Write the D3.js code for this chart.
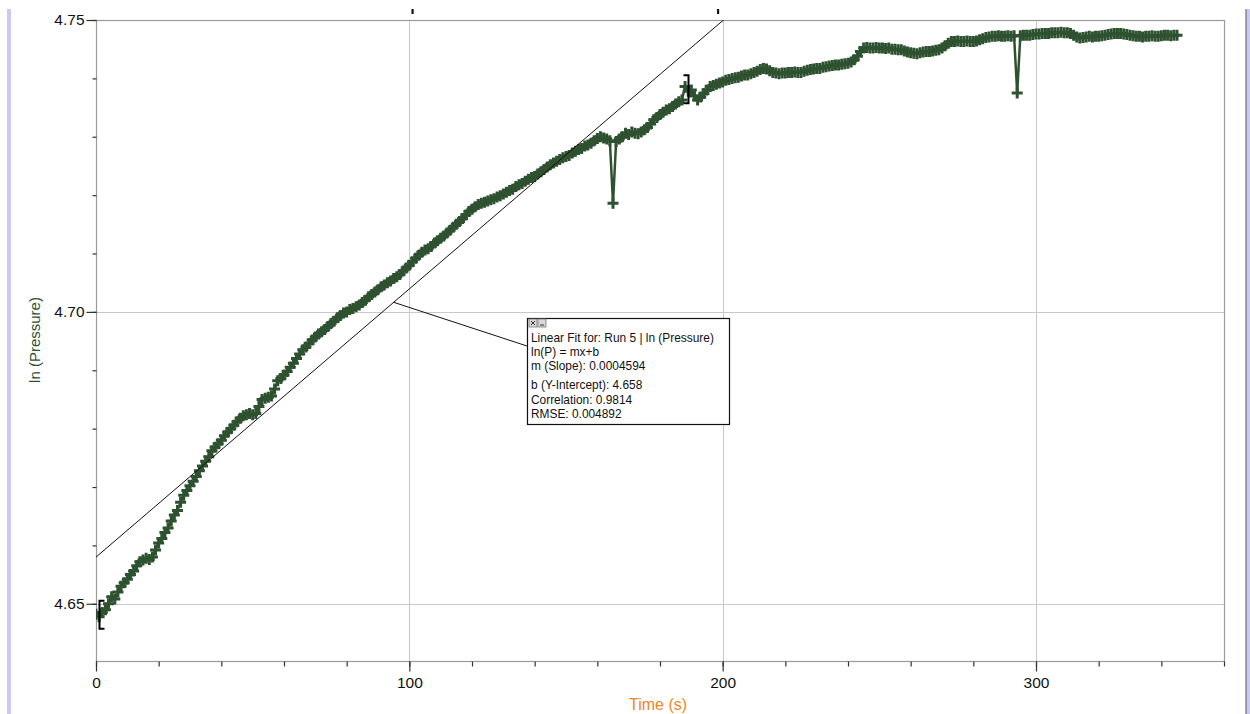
<!DOCTYPE html>
<html>
<head>
<meta charset="utf-8">
<script src="https://cdn.jsdelivr.net/npm/d3@7"></script>
<style>
  html, body { margin: 0; padding: 0; background: #fff; }
  svg { display: block; font-family: "Liberation Sans", Arial, sans-serif; }
</style>
</head>
<body>
<svg id="chart" width="1250" height="714"></svg>
<script>
// ---- data ----
// ln(Pressure) sampled once per second, t = 0 … 345 s
const lnP = [
  4.6482, 4.6478, 4.6485, 4.6490, 4.6500, 4.6512, 4.6508, 4.6520, 4.6530, 4.6536,
  4.6542, 4.6550, 4.6556, 4.6565, 4.6572, 4.6575, 4.6578, 4.6576, 4.6580, 4.6592,
  4.6604, 4.6612, 4.6622, 4.6630, 4.6642, 4.6652, 4.6660, 4.6674, 4.6686, 4.6694,
  4.6702, 4.6710, 4.6718, 4.6728, 4.6736, 4.6744, 4.6752, 4.6762, 4.6768, 4.6774,
  4.6780, 4.6788, 4.6794, 4.6800, 4.6806, 4.6812, 4.6818, 4.6822, 4.6824, 4.6826,
  4.6824, 4.6826, 4.6838, 4.6850, 4.6852, 4.6854, 4.6856, 4.6868, 4.6882, 4.6886,
  4.6892, 4.6898, 4.6905, 4.6912, 4.6920, 4.6928, 4.6935, 4.6940, 4.6946, 4.6952,
  4.6957, 4.6962, 4.6966, 4.6970, 4.6975, 4.6980, 4.6984, 4.6990, 4.6994, 4.6998,
  4.7000, 4.7004, 4.7006, 4.7009, 4.7012, 4.7016, 4.7020, 4.7026, 4.7030, 4.7034,
  4.7038, 4.7043, 4.7046, 4.7050, 4.7053, 4.7057, 4.7060, 4.7064, 4.7070, 4.7075,
  4.7080, 4.7086, 4.7092, 4.7097, 4.7102, 4.7106, 4.7108, 4.7112, 4.7118, 4.7122,
  4.7126, 4.7130, 4.7135, 4.7140, 4.7145, 4.7150, 4.7155, 4.7160, 4.7166, 4.7172,
  4.7176, 4.7180, 4.7184, 4.7186, 4.7188, 4.7190, 4.7192, 4.7194, 4.7197, 4.7199,
  4.7202, 4.7205, 4.7208, 4.7210, 4.7215, 4.7218, 4.7220, 4.7224, 4.7227, 4.7230,
  4.7232, 4.7236, 4.7240, 4.7244, 4.7248, 4.7252, 4.7255, 4.7258, 4.7261, 4.7264,
  4.7266, 4.7268, 4.7272, 4.7275, 4.7278, 4.7280, 4.7284, 4.7286, 4.7289, 4.7293,
  4.7297, 4.7300, 4.7298, 4.7296, 4.7293, 4.7186, 4.7292, 4.7296, 4.7300, 4.7306,
  4.7304, 4.7308, 4.7306, 4.7305, 4.7308, 4.7312, 4.7316, 4.7322, 4.7329, 4.7333,
  4.7338, 4.7342, 4.7346, 4.7348, 4.7352, 4.7356, 4.7360, 4.7363, 4.7386, 4.7378,
  4.7380, 4.7370, 4.7363, 4.7368, 4.7374, 4.7380, 4.7386, 4.7388, 4.7390, 4.7392,
  4.7394, 4.7397, 4.7398, 4.7400, 4.7401, 4.7402, 4.7404, 4.7406, 4.7406, 4.7408,
  4.7410, 4.7412, 4.7415, 4.7417, 4.7416, 4.7413, 4.7410, 4.7409, 4.7408, 4.7409,
  4.7409, 4.7410, 4.7410, 4.7411, 4.7410, 4.7410, 4.7412, 4.7414, 4.7415, 4.7416,
  4.7417, 4.7417, 4.7419, 4.7420, 4.7421, 4.7422, 4.7423, 4.7423, 4.7424, 4.7425,
  4.7426, 4.7428, 4.7432, 4.7438, 4.7446, 4.7452, 4.7453, 4.7452, 4.7452, 4.7453,
  4.7452, 4.7452, 4.7451, 4.7452, 4.7450, 4.7450, 4.7449, 4.7449, 4.7447, 4.7445,
  4.7444, 4.7443, 4.7442, 4.7444, 4.7445, 4.7446, 4.7446, 4.7447, 4.7448, 4.7449,
  4.7452, 4.7456, 4.7460, 4.7463, 4.7463, 4.7464, 4.7463, 4.7463, 4.7464, 4.7463,
  4.7463, 4.7464, 4.7466, 4.7468, 4.7470, 4.7471, 4.7472, 4.7472, 4.7473, 4.7472,
  4.7472, 4.7473, 4.7472, 4.7473, 4.7375, 4.7473, 4.7474, 4.7474, 4.7474, 4.7475,
  4.7476, 4.7476, 4.7477, 4.7477, 4.7477, 4.7478, 4.7478, 4.7478, 4.7479, 4.7478,
  4.7478, 4.7477, 4.7474, 4.7471, 4.7469, 4.7470, 4.7471, 4.7472, 4.7471, 4.7472,
  4.7472, 4.7473, 4.7474, 4.7475, 4.7476, 4.7477, 4.7477, 4.7477, 4.7476, 4.7475,
  4.7474, 4.7473, 4.7472, 4.7472, 4.7471, 4.7472, 4.7472, 4.7473, 4.7472, 4.7472,
  4.7473, 4.7474, 4.7474, 4.7473, 4.7474, 4.7474
];
const time = d3.range(0, lnP.length);            // seconds (1 s sample clock)

const xDomain = [0, 360];
const yDomain = [4.6402, 4.75];
const xMinorTicks = d3.range(0, 361, 20);
const xMajorTicks = [0, 100, 200, 300];
const yMinorTicks = [4.65, 4.66, 4.67, 4.68, 4.69, 4.70, 4.71, 4.72, 4.73, 4.74, 4.75];
const yMajorTicks = [4.65, 4.70, 4.75];
const xGrid = [100, 200, 300];
const yGrid = [4.65, 4.70];

// linear fit
const fitSlope = 0.0004594;
const fitIntercept = 4.658;
const fitRange = [1, 189];        // bracketed region of the fit (s)
const fitLeaderAt = 95;           // where the annotation leader meets the fit line (s)
const topMarks = [101, 198.5];    // small markers above the graph (s)

const fitText = [
  "Linear Fit for: Run 5 | ln (Pressure)",
  "ln(P) = mx+b",
  "m (Slope): 0.0004594",
  "b (Y-Intercept): 4.658",
  "Correlation: 0.9814",
  "RMSE: 0.004892"
];

const xTitle = "Time (s)";
const yTitle = "ln (Pressure)";

// ---- layout ----
const svg = d3.select("#chart");
const L = 96, R = 1224, T = 20, B = 661;
const x = d3.scaleLinear().domain(xDomain).range([L, R]);
const y = d3.scaleLinear().domain(yDomain).range([B, T]);
const green = "#2e5230";

// side bars
svg.append("rect").attr("x", 7).attr("y", 9).attr("width", 4).attr("height", 705).attr("fill", "#c9c9f2");
svg.append("rect").attr("x", 1246).attr("y", 9).attr("width", 4).attr("height", 705).attr("fill", "#c9c9f2");
svg.append("rect").attr("x", 1245.5).attr("y", 9).attr("width", 1).attr("height", 705).attr("fill", "#555");

// grid
svg.append("g").selectAll("line").data(xGrid).join("line")
  .attr("x1", d => Math.round(x(d)) + 0.5).attr("x2", d => Math.round(x(d)) + 0.5)
  .attr("y1", T).attr("y2", B).attr("stroke", "#c8c8c8").attr("stroke-width", 1);
svg.append("g").selectAll("line").data(yGrid).join("line")
  .attr("y1", d => Math.round(y(d)) + 0.5).attr("y2", d => Math.round(y(d)) + 0.5)
  .attr("x1", L).attr("x2", R).attr("stroke", "#c8c8c8").attr("stroke-width", 1);

// frame
svg.append("rect").attr("x", L + 0.5).attr("y", T + 0.5).attr("width", R - L).attr("height", B - T)
  .attr("fill", "none").attr("stroke", "#9a9a9a").attr("stroke-width", 1.2);

// axes
function styleAxis(g) {
  g.select(".domain").remove();
  g.selectAll(".tick line").attr("stroke", "#333").attr("stroke-width", 1.2);
  g.selectAll(".tick text").attr("fill", "#111").style("font-size", "15.5px")
    .style("font-family", '"Liberation Sans", Arial, sans-serif');
}
svg.append("g").attr("transform", `translate(0,${B + 0.5})`)
  .call(d3.axisBottom(x).tickValues(xMinorTicks).tickSize(5).tickFormat(""))
  .call(styleAxis);
svg.append("g").attr("transform", `translate(0,${B + 0.5})`)
  .call(d3.axisBottom(x).tickValues(xMajorTicks).tickSize(10).tickPadding(5).tickFormat(d3.format("d")))
  .call(styleAxis);
svg.append("g").attr("transform", `translate(${L + 0.5},0)`)
  .call(d3.axisLeft(y).tickValues(yMinorTicks).tickSize(4).tickFormat(""))
  .call(styleAxis);
svg.append("g").attr("transform", `translate(${L + 0.5},0)`)
  .call(d3.axisLeft(y).tickValues(yMajorTicks).tickSize(10).tickPadding(2).tickFormat(d3.format(".2f")))
  .call(styleAxis);

// top markers
svg.append("g").selectAll("rect").data(topMarks).join("rect")
  .attr("x", d => x(d) - 1).attr("y", 9).attr("width", 2.2).attr("height", 5).attr("fill", "#111");

// clip
svg.append("clipPath").attr("id", "plotclip").append("rect")
  .attr("x", L).attr("y", T).attr("width", R - L).attr("height", B - T);
const plot = svg.append("g").attr("clip-path", "url(#plotclip)");

// data line + markers
const pts = time.map((t, i) => [t, lnP[i]]);
plot.append("path").datum(pts)
  .attr("d", d3.line().x(d => x(d[0])).y(d => y(d[1])))
  .attr("fill", "none").attr("stroke", green).attr("stroke-width", 2.5);
const a = 5.5;
plot.append("g").selectAll("path").data(pts).join("path")
  .attr("transform", d => `translate(${x(d[0])},${y(d[1])})`)
  .attr("d", `M${-a},0H${a}M0,${-a}V${a}`)
  .attr("stroke", green).attr("stroke-width", 3).attr("fill", "none");

// fit line
plot.append("line")
  .attr("x1", x(xDomain[0])).attr("y1", y(fitIntercept + fitSlope * xDomain[0]))
  .attr("x2", x(xDomain[1])).attr("y2", y(fitIntercept + fitSlope * xDomain[1]))
  .attr("stroke", "#111").attr("stroke-width", 1);

// fit range brackets
function bracket(t, dir) {
  const xi = Math.round(x(t)) + 0.5;
  const yc = y(lnP[Math.round(t)]) - 2;
  const h = 14, w = 5 * dir;
  svg.append("path")
    .attr("d", `M${xi + w},${yc - h}H${xi}V${yc + h}H${xi + w}`)
    .attr("fill", "none").attr("stroke", "#000").attr("stroke-width", 2);
}
bracket(fitRange[0], 1);
bracket(fitRange[1], -1);

// annotation box
const bx = 527, by = 318, bw = 202, bh = 106;
svg.append("line")
  .attr("x1", x(fitLeaderAt)).attr("y1", y(fitIntercept + fitSlope * fitLeaderAt))
  .attr("x2", bx).attr("y2", 346)
  .attr("stroke", "#111").attr("stroke-width", 1);
svg.append("rect").attr("x", bx + 0.5).attr("y", by + 0.5).attr("width", bw).attr("height", bh)
  .attr("fill", "#fff").attr("stroke", "#111").attr("stroke-width", 1.2);
// small icons
[[529, 319], [538, 319]].forEach(([ix, iy], k) => {
  svg.append("rect").attr("x", ix).attr("y", iy).attr("width", 8).attr("height", 8)
    .attr("fill", "#d8d8d8").attr("stroke", "#777").attr("stroke-width", 0.8);
  if (k === 0) {
    svg.append("path").attr("d", `M${ix + 2},${iy + 2}L${ix + 6},${iy + 6}M${ix + 6},${iy + 2}L${ix + 2},${iy + 6}`)
      .attr("stroke", "#333").attr("stroke-width", 1);
  } else {
    svg.append("path").attr("d", `M${ix + 2},${iy + 6}H${ix + 6}`).attr("stroke", "#333").attr("stroke-width", 1);
  }
});
const lineY = [342, 356, 370, 389, 404, 418];
svg.append("g").selectAll("text").data(fitText).join("text")
  .attr("x", 531).attr("y", (d, i) => lineY[i])
  .attr("fill", "#111").style("font-size", "11.9px").text(d => d);

// axis titles
svg.append("text").attr("x", 658).attr("y", 710).attr("text-anchor", "middle")
  .attr("fill", "#f0861a").style("font-size", "16px").text(xTitle);
svg.append("text").attr("transform", "translate(40,340) rotate(-90)").attr("text-anchor", "middle")
  .attr("fill", green).style("font-size", "15px").text(yTitle);
</script>
</body>
</html>
